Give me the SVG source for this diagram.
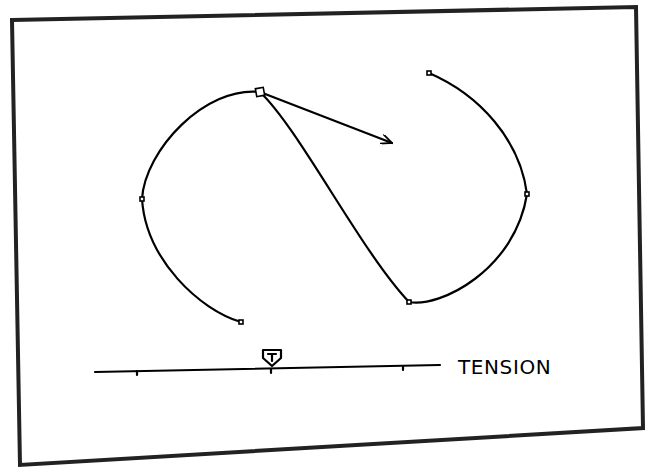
<svg xmlns="http://www.w3.org/2000/svg" width="648" height="472" viewBox="0 0 648 472">
<defs>
<style>
.ln{fill:none;stroke:#000;stroke-width:2.2;stroke-linejoin:round;stroke-linecap:round}
.pt{fill:#fff;stroke:#000;stroke-width:1.6}
</style>
<marker id="ah" viewBox="0 0 12 10" refX="11" refY="5" markerWidth="12" markerHeight="10" markerUnits="userSpaceOnUse" orient="auto">
<path d="M0,0 L11,5 L0,10" fill="none" stroke="#000" stroke-width="1.8"/>
</marker>
</defs>
<rect width="648" height="472" fill="#fff"/>
<polygon points="12,20 636,7 643,428 20,465" fill="none" stroke="#222" stroke-width="4"/>
<g id="connectors">
<path id="curve" class="ln" d="M241,322 C200,310 146,260 142,199 C145,150 205,86 260,92 C300,130 360,250 409,302 C440,308 515,270 527,194 C520,140 480,95 429,73"/>
<line class="ln" x1="260" y1="92" x2="392" y2="143" marker-end="url(#ah)"/>
</g>
<g id="pt1"><rect class="pt" x="239" y="320" width="4" height="4"/></g>
<g id="pt2"><rect class="pt" x="140" y="197" width="4" height="4" fill="#000"/></g>
<g id="pt3"><rect class="pt" x="256" y="88" width="8" height="8" transform="rotate(-10 260 92)"/></g>
<g id="pt4"><rect class="pt" x="407" y="300" width="4" height="4"/></g>
<g id="pt5"><rect class="pt" x="525" y="192" width="4" height="4"/></g>
<g id="pt6"><rect class="pt" x="427" y="71" width="4" height="4"/></g>
<g id="slider">
<path class="ln" stroke-width="1.6" d="M95,372 L440,365"/>
<path class="ln" stroke-width="1.4" d="M137,371 V375 M403,366 V370 M271,369 V373"/>
<path class="ln" stroke-width="1.8" d="M263,350 H281 V358 L272,366 L263,358 Z"/>
<path class="ln" stroke-width="1.5" d="M268,354 H276 M272,354 V361"/>
<text x="458" y="374" font-family="'DejaVu Sans', sans-serif" font-size="20" letter-spacing="0.6">TENSION</text>
</g>
</svg>
